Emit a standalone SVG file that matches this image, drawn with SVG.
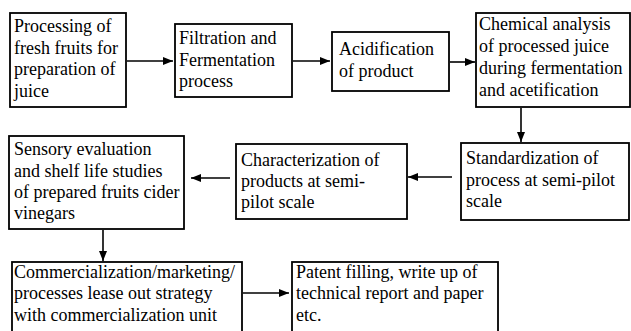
<svg xmlns="http://www.w3.org/2000/svg" width="631" height="331" viewBox="0 0 631 331">
<defs>
<marker id="ah" viewBox="0 0 10 8" refX="10" refY="4" markerWidth="10" markerHeight="8" markerUnits="userSpaceOnUse" orient="auto">
<path d="M0,0 L10,4 L0,8 Z" fill="#000"/>
</marker>
<style>
.box{fill:#fff;stroke:#000;stroke-width:1.8}
.t{font-family:"Liberation Serif","Times New Roman",serif;font-size:18px;fill:#000}
.c{stroke:#000;stroke-width:1.6;fill:none;marker-end:url(#ah)}
</style>
</defs>
<rect width="631" height="331" fill="#fff"/>
<g id="n1"><rect class="box" x="10" y="13" width="116" height="94"/>
<text class="t" x="14"><tspan x="14" y="32">Processing of</tspan><tspan x="14" y="54">fresh fruits for</tspan><tspan x="14" y="75">preparation of</tspan><tspan x="14" y="97">juice</tspan></text></g>
<g id="n2"><rect class="box" x="175" y="24" width="117" height="73"/>
<text class="t"><tspan x="179" y="44">Filtration and</tspan><tspan x="179" y="66">Fermentation</tspan><tspan x="179" y="87">process</tspan></text></g>
<g id="n3"><rect class="box" x="332" y="32" width="117" height="59"/>
<text class="t"><tspan x="339" y="55">Acidification</tspan><tspan x="339" y="77">of product</tspan></text></g>
<g id="n4"><rect class="box" x="476" y="13" width="154" height="94"/>
<text class="t"><tspan x="479" y="30">Chemical analysis</tspan><tspan x="479" y="52">of processed juice</tspan><tspan x="479" y="74">during fermentation</tspan><tspan x="479" y="96">and acetification</tspan></text></g>
<g id="n5"><rect class="box" x="461" y="143" width="168" height="77"/>
<text class="t"><tspan x="466" y="164">Standardization of</tspan><tspan x="466" y="186">process at semi-pilot</tspan><tspan x="466" y="207">scale</tspan></text></g>
<g id="n6"><rect class="box" x="236" y="144" width="171" height="75"/>
<text class="t"><tspan x="241" y="166">Characterization of</tspan><tspan x="241" y="187">products at semi-</tspan><tspan x="241" y="208">pilot scale</tspan></text></g>
<g id="n7"><rect class="box" x="9" y="136" width="175" height="93"/>
<text class="t"><tspan x="14" y="155">Sensory evaluation</tspan><tspan x="14" y="177">and shelf life studies</tspan><tspan x="14" y="198">of prepared fruits cider</tspan><tspan x="14" y="219">vinegars</tspan></text></g>
<g id="n8"><rect class="box" x="12" y="262" width="230" height="80"/>
<text class="t"><tspan x="14" y="278">Commercialization/marketing/</tspan><tspan x="14" y="299">processes lease out strategy</tspan><tspan x="14" y="321">with commercialization unit</tspan></text></g>
<g id="n9"><rect class="box" x="292" y="262" width="206" height="80"/>
<text class="t"><tspan x="296" y="278">Patent filling, write up of</tspan><tspan x="296" y="299">technical report and paper</tspan><tspan x="296" y="321">etc.</tspan></text></g>
<g id="connectors">
<line class="c" x1="127" y1="61" x2="173" y2="61"/>
<line class="c" x1="293" y1="61" x2="330" y2="61"/>
<line class="c" x1="450" y1="62" x2="475" y2="62"/>
<line class="c" x1="521" y1="108" x2="521" y2="142"/>
<line class="c" x1="452" y1="177" x2="408" y2="177"/>
<line class="c" x1="230" y1="178" x2="191" y2="178"/>
<line class="c" x1="103" y1="230" x2="103" y2="261"/>
<line class="c" x1="243" y1="293" x2="289" y2="293"/>
</g>
</svg>
